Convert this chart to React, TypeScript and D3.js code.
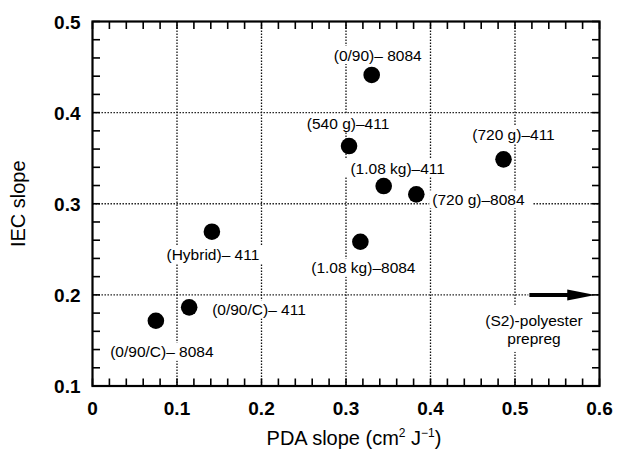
import React from "react";
import * as d3 from "d3";

// ---- data ----
const labels = [
  "(0/90)– 8084",
  "(540 g)–411",
  "(720 g)–411",
  "(1.08 kg)–411",
  "(720 g)–8084",
  "(Hybrid)– 411",
  "(1.08 kg)–8084",
  "(0/90/C)– 411",
  "(0/90/C)– 8084",
];
const pdaSlope = [0.3304, 0.3036, 0.4864, 0.3446, 0.3832, 0.1413, 0.317, 0.1144, 0.075];
const iecSlope = [0.4413, 0.3633, 0.3487, 0.3194, 0.3103, 0.2693, 0.2583, 0.1863, 0.1716];

// label placement relative to the marker (pixels): [dx, dy, anchor]
const labelOffsets: [number, number, string][] = [
  [6, -20, "middle"],
  [-1, -23, "middle"],
  [10, -25, "middle"],
  [14, -18, "middle"],
  [16, 5, "start"],
  [1, 23, "middle"],
  [3, 26, "middle"],
  [23, 2, "start"],
  [6, 31, "middle"],
];

const xTicks = [0, 0.1, 0.2, 0.3, 0.4, 0.5, 0.6];
const yTicks = [0.1, 0.2, 0.3, 0.4, 0.5];
const xGrid = [0.1, 0.2, 0.3, 0.4, 0.5];
const yGrid = [0.2, 0.3, 0.4];
const xDomain = [0, 0.6];
const yDomain = [0.1, 0.5];
const arrowLevel = 0.2;
const arrowFrom = 0.517;
const arrowTo = 0.595;
const noteLines = ["(S2)-polyester", "prepreg"];

const W = 617;
const H = 454;
const FONT = "'Liberation Sans', Arial, Helvetica, sans-serif";

export default function App() {
  const left = 92.5, right = 599.5, top = 21.5, bottom = 386;
  const x = d3.scaleLinear().domain(xDomain).range([left, right]);
  const y = d3.scaleLinear().domain(yDomain).range([bottom, top]);

  const minorX = d3.range(0, 0.6001, 0.02);
  const minorY = d3.range(0.1, 0.5001, 0.02);
  const tickLen = 7.5;
  const fmt = (v: number) => (v === 0 ? "0" : d3.format(".1f")(v));

  const labelFont = 15.5;
  // approximate text widths for white backgrounds
  const measure = (s: string) => s.length * labelFont * 0.52;

  const arrowY = y(arrowLevel);

  return (
    <svg
      width={W}
      height={H}
      style={{ position: "absolute", left: 0, top: 0, background: "#fff" }}
      fontFamily={FONT}
    >
      <rect x={0} y={0} width={W} height={H} fill="#fff" />
      {/* grid */}
      <g stroke="#111" strokeWidth={1.3} strokeDasharray="1.4 1.6">
        {xGrid.map((v) => (
          <line key={"gx" + v} x1={x(v)} x2={x(v)} y1={top} y2={bottom} />
        ))}
        {yGrid.map((v) => (
          <line key={"gy" + v} x1={left} x2={right} y1={y(v)} y2={y(v)} />
        ))}
      </g>

      {/* label backgrounds */}
      {labels.map((s, i) => {
        const [dx, dy, anchor] = labelOffsets[i];
        const w = measure(s);
        const cx = x(pdaSlope[i]) + dx;
        const x0 = anchor === "middle" ? cx - w / 2 : cx;
        const cy = y(iecSlope[i]) + dy;
        return (
          <rect key={"bg" + i} x={x0 - 3} y={cy - 9} width={w + 6} height={18} fill="#fff" />
        );
      })}
      <rect x={x(0.5) - 48} y={arrowY + 10} width={96} height={47} fill="#fff" />

      {/* markers */}
      {pdaSlope.map((v, i) => (
        <circle key={"p" + i} cx={x(v)} cy={y(iecSlope[i])} r={8.3} fill="#000" />
      ))}

      {/* labels */}
      {labels.map((s, i) => {
        const [dx, dy, anchor] = labelOffsets[i];
        return (
          <text
            key={"l" + i}
            x={x(pdaSlope[i]) + dx}
            y={y(iecSlope[i]) + dy}
            dy="0.36em"
            fontSize={labelFont}
            textAnchor={anchor}
            fill="#000"
          >
            {s}
          </text>
        );
      })}

      {/* arrow + note */}
      <rect x={x(arrowFrom) - 1} y={arrowY - 6} width={x(arrowTo) - x(arrowFrom) + 2} height={12} fill="#fff" />
      <line x1={x(arrowFrom)} x2={x(arrowTo) - 26} y1={arrowY} y2={arrowY} stroke="#000" strokeWidth={4} />
      <path
        d={`M${x(arrowTo) - 28},${arrowY - 5.5} L${x(arrowTo)},${arrowY} L${x(arrowTo) - 28},${arrowY + 5.5} Z`}
        fill="#000"
      />
      {noteLines.map((s, i) => (
        <text
          key={"n" + i}
          x={x(0.5) + 19}
          y={arrowY + 31 + i * 18.5}
          fontSize={labelFont}
          textAnchor="middle"
          fill="#000"
        >
          {s}
        </text>
      ))}

      {/* ticks (inward, all four sides) */}
      <g stroke="#000" strokeWidth={1.6}>
        {minorX.map((v, i) => (
          <g key={"tx" + i}>
            <line x1={x(v)} x2={x(v)} y1={bottom} y2={bottom - tickLen} />
            <line x1={x(v)} x2={x(v)} y1={top} y2={top + tickLen} />
          </g>
        ))}
        {minorY.map((v, i) => (
          <g key={"ty" + i}>
            <line x1={left} x2={left + tickLen} y1={y(v)} y2={y(v)} />
            <line x1={right} x2={right - tickLen} y1={y(v)} y2={y(v)} />
          </g>
        ))}
      </g>

      {/* frame */}
      <rect x={left} y={top} width={right - left} height={bottom - top} fill="none" stroke="#000" strokeWidth={2.2} />

      {/* tick labels */}
      {xTicks.map((v) => (
        <text key={"xl" + v} x={x(v)} y={bottom + 29} fontSize={19} fontWeight="bold" textAnchor="middle" fill="#000">
          {fmt(v)}
        </text>
      ))}
      {yTicks.map((v) => (
        <text key={"yl" + v} x={left - 12} y={y(v) + 7} fontSize={19} fontWeight="bold" textAnchor="end" fill="#000">
          {fmt(v)}
        </text>
      ))}

      {/* axis titles */}
      <text x={354} y={445} fontSize={20} textAnchor="middle" fill="#000">
        PDA slope (cm
        <tspan fontSize={12} dy={-8}>2</tspan>
        <tspan dy={8}> J</tspan>
        <tspan fontSize={12} dy={-8}>−1</tspan>
        <tspan dy={8}>)</tspan>
      </text>
      <text transform={`translate(25,${(top + bottom) / 2}) rotate(-90)`} fontSize={20} textAnchor="middle" fill="#000">
        IEC slope
      </text>
    </svg>
  );
}
